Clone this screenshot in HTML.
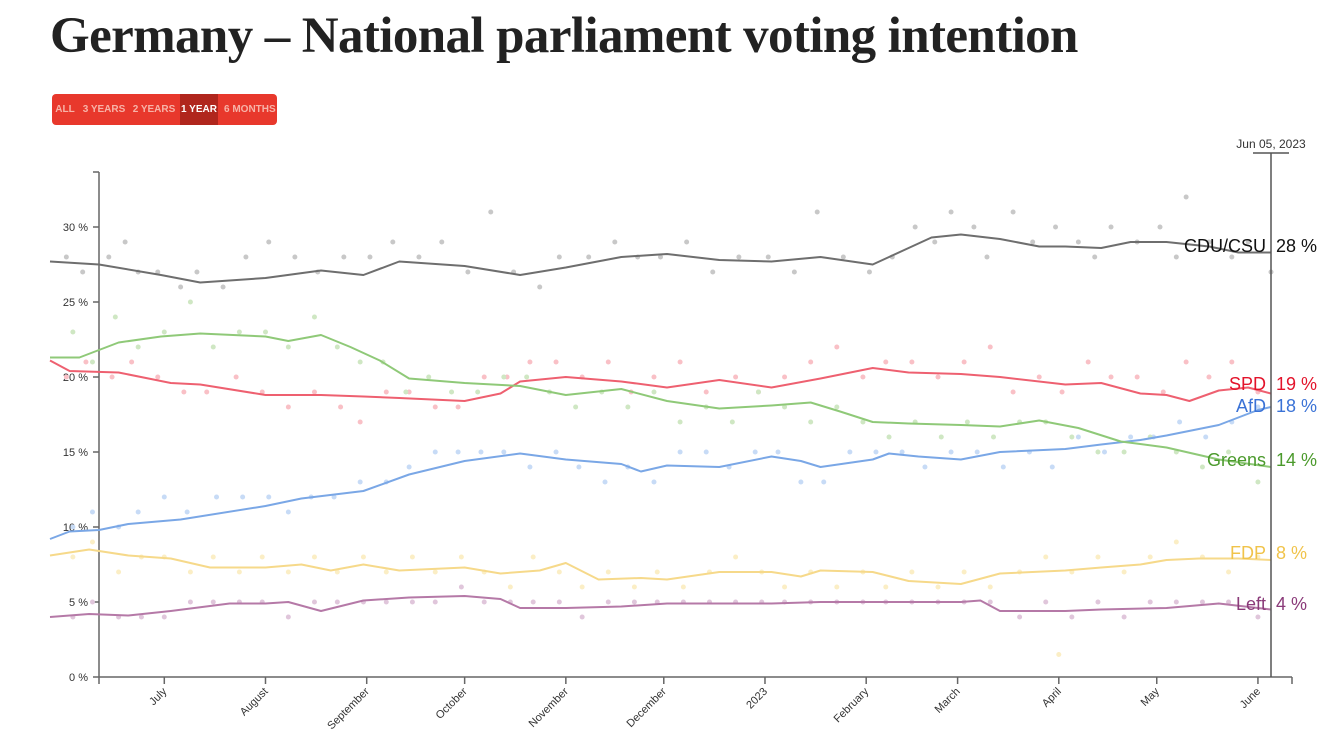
<!DOCTYPE html>
<html><head><meta charset="utf-8">
<style>
body{margin:0;background:#fff;width:1325px;height:737px;overflow:hidden;font-family:"Liberation Sans",sans-serif;}
h1{position:absolute;left:50px;top:7px;margin:0;font-family:"Liberation Serif",serif;font-weight:bold;font-size:51px;color:#222;letter-spacing:-0.6px;white-space:nowrap;}
#btns{position:absolute;left:52px;top:94px;width:225px;height:31px;background:#e8382c;border-radius:4px;overflow:hidden;}
#btns div{position:absolute;top:0;font-family:"Liberation Sans Narrow","Liberation Sans",sans-serif;font-weight:bold;font-size:10px;color:#f7b3a8;line-height:31px;white-space:nowrap;text-align:center;}
#btns div.on{background:#b0261d;color:#fff;}
svg{position:absolute;left:0;top:0;}
</style></head><body>
<h1>Germany – National parliament voting intention</h1>
<div id="btns">
<div style="left:2px;width:22px">ALL</div>
<div style="left:30px;width:44px">3 YEARS</div>
<div style="left:80px;width:44px">2 YEARS</div>
<div class="on" style="left:128px;width:38px">1 YEAR</div>
<div style="left:172px;width:50px">6 MONTHS</div>
</div>
<svg id="chart" width="1325" height="737"></svg>
<script>
const monthDays=[20,51,82,112,143,173,204,235,263,294,324,355];
const monthLabels=["July","August","September","October","November","December","2023","February","March","April","May","June"];
const yTicks=[0,5,10,15,20,25,30];
const partyNames=["CDU/CSU","SPD","AfD","Greens","FDP","Left"];
const lastValues=[28,19,18,14,8,4];
const cduLine=[[-15,27.7],[0,27.5],[19,26.8],[31,26.3],[51,26.6],[68,27.1],[81,26.8],[92,27.7],[112,27.4],[129,26.8],[143,27.3],[160,28.0],[174,28.2],[190,27.8],[206,27.7],[221,28.0],[237,27.5],[248,28.6],[255,29.3],[264,29.5],[276,29.2],[288,28.7],[296,28.7],[307,28.6],[316,29.0],[327,29.0],[340,28.7],[349,28.3],[359,28.3]];
const spdLine=[[-15,21.1],[-9,20.4],[6,20.3],[22,19.6],[31,19.5],[51,18.8],[68,18.8],[81,18.7],[92,18.6],[112,18.4],[123,18.9],[129,19.7],[143,20.0],[160,19.7],[174,19.3],[190,19.8],[206,19.3],[221,19.9],[237,20.6],[248,20.3],[264,20.2],[276,20.0],[296,19.5],[307,19.6],[319,18.9],[327,18.8],[334,18.4],[343,19.1],[352,19.3],[359,18.9]];
const afdLine=[[-15,9.2],[-9,9.7],[0,9.8],[9,10.2],[25,10.5],[51,11.4],[62,11.9],[81,12.4],[95,13.5],[112,14.4],[129,14.9],[143,14.5],[160,14.2],[166,13.7],[174,14.1],[190,14.0],[206,14.7],[215,14.4],[221,14.0],[237,14.5],[242,14.9],[251,14.7],[264,14.5],[276,15.0],[296,15.2],[307,15.5],[319,15.8],[327,16.1],[343,16.8],[355,17.8],[359,18.0]];
const greensLine=[[-15,21.3],[-6,21.3],[6,22.3],[19,22.7],[31,22.9],[51,22.7],[58,22.4],[68,22.8],[77,22.0],[86,21.1],[95,19.9],[112,19.6],[129,19.4],[143,18.8],[160,19.2],[174,18.4],[190,17.9],[206,18.1],[218,18.3],[227,17.7],[237,17.0],[248,16.9],[264,16.8],[276,16.7],[288,17.1],[300,16.6],[313,15.7],[327,15.3],[343,14.5],[359,14.0]];
const fdpLine=[[-15,8.1],[-3,8.5],[9,8.1],[22,7.9],[34,7.3],[51,7.3],[62,7.5],[71,7.1],[81,7.5],[92,7.1],[112,7.3],[123,6.9],[135,7.1],[143,7.6],[153,6.5],[166,6.6],[174,6.5],[190,7.0],[206,7.0],[215,6.7],[221,7.1],[237,7.0],[248,6.4],[264,6.2],[276,6.9],[296,7.1],[307,7.3],[319,7.5],[327,7.8],[337,7.9],[349,7.9],[359,7.8]];
const leftLine=[[-15,4.0],[-3,4.2],[9,4.1],[22,4.4],[40,4.9],[51,4.9],[58,5.0],[68,4.4],[81,5.1],[95,5.3],[112,5.4],[123,5.2],[129,4.6],[143,4.6],[160,4.7],[174,4.9],[206,4.9],[221,5.0],[237,5.0],[264,5.0],[270,5.1],[276,4.4],[296,4.4],[307,4.5],[327,4.6],[343,4.9],[359,4.5]];
const cduPolls=[[-10,28],[-5,27],[3,28],[8,29],[12,27],[18,27],[25,26],[30,27],[38,26],[45,28],[52,29],[60,28],[67,27],[75,28],[83,28],[90,29],[98,28],[105,29],[113,27],[120,31],[127,27],[135,26],[141,28],[150,28],[158,29],[165,28],[172,28],[180,29],[188,27],[196,28],[205,28],[213,27],[220,31],[228,28],[236,27],[243,28],[250,30],[256,29],[261,31],[268,30],[272,28],[280,31],[286,29],[293,30],[300,29],[305,28],[310,30],[318,29],[325,30],[330,28],[333,32],[340,29],[347,28],[352,29],[359,27]];
const spdPolls=[[-10,20],[-4,21],[4,20],[10,21],[18,20],[26,19],[33,19],[42,20],[50,19],[58,18],[66,19],[74,18],[80,17],[88,19],[95,19],[103,18],[110,18],[118,20],[125,20],[132,21],[140,21],[148,20],[156,21],[163,19],[170,20],[178,21],[186,19],[195,20],[202,19],[210,20],[218,21],[226,22],[234,20],[241,21],[249,21],[257,20],[265,21],[273,22],[280,19],[288,20],[295,19],[303,21],[310,20],[318,20],[326,19],[333,21],[340,20],[347,21],[355,19]];
const afdPolls=[[-8,10],[-2,11],[6,10],[12,11],[20,12],[27,11],[36,12],[44,12],[52,12],[58,11],[65,12],[72,12],[80,13],[88,13],[95,14],[103,15],[110,15],[117,15],[124,15],[132,14],[140,15],[147,14],[155,13],[162,14],[170,13],[178,15],[186,15],[193,14],[201,15],[208,15],[215,13],[222,13],[230,15],[238,15],[246,15],[253,14],[261,15],[269,15],[277,14],[285,15],[292,14],[300,16],[308,15],[316,16],[323,16],[331,17],[339,16],[347,17],[355,18]];
const greensPolls=[[-8,23],[-2,21],[5,24],[12,22],[20,23],[28,25],[35,22],[43,23],[51,23],[58,22],[66,24],[73,22],[80,21],[87,21],[94,19],[101,20],[108,19],[116,19],[124,20],[131,20],[138,19],[146,18],[154,19],[162,18],[170,19],[178,17],[186,18],[194,17],[202,19],[210,18],[218,17],[226,18],[234,17],[242,16],[250,17],[258,16],[266,17],[274,16],[282,17],[290,17],[298,16],[306,15],[314,15],[322,16],[330,15],[338,14],[346,15],[355,13]];
const fdpPolls=[[-8,8],[-2,9],[6,7],[13,8],[20,8],[28,7],[35,8],[43,7],[50,8],[58,7],[66,8],[73,7],[81,8],[88,7],[96,8],[103,7],[111,8],[118,7],[126,6],[133,8],[141,7],[148,6],[156,7],[164,6],[171,7],[179,6],[187,7],[195,8],[203,7],[210,6],[218,7],[226,6],[234,7],[241,6],[249,7],[257,6],[265,7],[273,6],[282,7],[290,8],[294,1.5],[298,7],[306,8],[314,7],[322,8],[330,9],[338,8],[346,7],[355,8]];
const leftPolls=[[-8,4],[-2,5],[6,4],[13,4],[20,4],[28,5],[35,5],[43,5],[50,5],[58,4],[66,5],[73,5],[81,5],[88,5],[96,5],[103,5],[111,6],[118,5],[126,5],[133,5],[141,5],[148,4],[156,5],[164,5],[171,5],[179,5],[187,5],[195,5],[203,5],[210,5],[218,5],[226,5],[234,5],[241,5],[249,5],[257,5],[265,5],[273,5],[282,4],[290,5],[298,4],[306,5],[314,4],[322,5],[330,5],[338,5],[346,5],[355,4]];

const svg=document.getElementById('chart');
const NS='http://www.w3.org/2000/svg';
const X0=99,XD=(1271-99)/359,Y0=677,YS=15;
const xs=d=>X0+d*XD, ys=v=>Y0-v*YS;
function mk(tag,attrs,parent){const e=document.createElementNS(NS,tag);for(const k in attrs)e.setAttribute(k,attrs[k]);(parent||svg).appendChild(e);return e;}
const parties=[
 {n:'cdu',line:cduLine,polls:cduPolls,lc:'#6e6e6e',dc:'#c8c8c8',tc:'#111'},
 {n:'spd',line:spdLine,polls:spdPolls,lc:'#ee6070',dc:'#f9c0c6',tc:'#e3132b'},
 {n:'afd',line:afdLine,polls:afdPolls,lc:'#7aa7e6',dc:'#c7dbf6',tc:'#3a72d6'},
 {n:'greens',line:greensLine,polls:greensPolls,lc:'#8fc978',dc:'#cfe7c3',tc:'#4b9a2c'},
 {n:'fdp',line:fdpLine,polls:fdpPolls,lc:'#f6d98a',dc:'#fbeec5',tc:'#f0c34a'},
 {n:'left',line:leftLine,polls:leftPolls,lc:'#b579a7',dc:'#e0c6db',tc:'#8a3a79'}];
const ax=mk('g',{});


mk('line',{x1:X0,y1:172,x2:X0,y2:Y0,stroke:'#666','stroke-width':1.5},ax);
mk('line',{x1:93,y1:172,x2:X0,y2:172,stroke:'#666','stroke-width':1.5},ax);
yTicks.forEach(v=>{
 mk('line',{x1:93,y1:ys(v),x2:X0,y2:ys(v),stroke:'#666','stroke-width':1.5},ax);
 const t=mk('text',{x:88,y:ys(v)+4,'text-anchor':'end','font-size':11,fill:'#333'},ax);
 t.textContent=v+' %';
 
 
});
const xa=mk('g',{});


mk('line',{x1:X0,y1:Y0,x2:1292,y2:Y0,stroke:'#666','stroke-width':1.5},xa);
mk('line',{x1:X0,y1:Y0,x2:X0,y2:Y0+7,stroke:'#666','stroke-width':1.5},xa);
mk('line',{x1:1292,y1:Y0,x2:1292,y2:Y0+7,stroke:'#666','stroke-width':1.5},xa);
monthDays.forEach((d,i)=>{
 const x=xs(d);
 mk('line',{x1:x,y1:Y0,x2:x,y2:Y0+7,stroke:'#666','stroke-width':1.5},xa);
 const t=mk('text',{x:x+3,y:Y0+15,'text-anchor':'end','font-size':11,fill:'#333',transform:`rotate(-45 ${x+3} ${Y0+15})`},xa);
 t.textContent=monthLabels[i];
 
 
});
parties.forEach(p=>{
 const g=mk('g',{});
 
 
 p.polls.forEach(([d,v])=>{
  const c=mk('circle',{cx:xs(d),cy:ys(v),r:2.5,fill:p.dc},g);
  
  
 });
});
parties.forEach(p=>{
 const d=p.line.map(([dd,v],i)=>(i?'L':'M')+xs(dd).toFixed(1)+','+ys(v).toFixed(1)).join('');
 const path=mk('path',{d:d,fill:'none',stroke:p.lc,'stroke-width':2,'stroke-linejoin':'round'});
 
 
});
const cg=mk('g',{});


mk('line',{x1:1271,y1:153,x2:1271,y2:Y0,stroke:'#555','stroke-width':1.5},cg);
mk('line',{x1:1253,y1:153,x2:1289,y2:153,stroke:'#555','stroke-width':1.5},cg);
const ct=mk('text',{x:1271,y:148,'text-anchor':'middle','font-size':12,fill:'#333'},cg);
ct.textContent='Jun 05, 2023';
const labelY=[246,384,406,460,553,604];
partyNames.forEach((n,i)=>{
 const p=parties[i];
 const t1=mk('text',{x:1266,y:labelY[i]+6,'text-anchor':'end','font-size':18,fill:p.tc});
 t1.textContent=n;
 
 
 const t2=mk('text',{x:1276,y:labelY[i]+6,'font-size':18,fill:p.tc});
 t2.textContent=lastValues[i]+' %';
 
 
});
</script>
</body></html>
